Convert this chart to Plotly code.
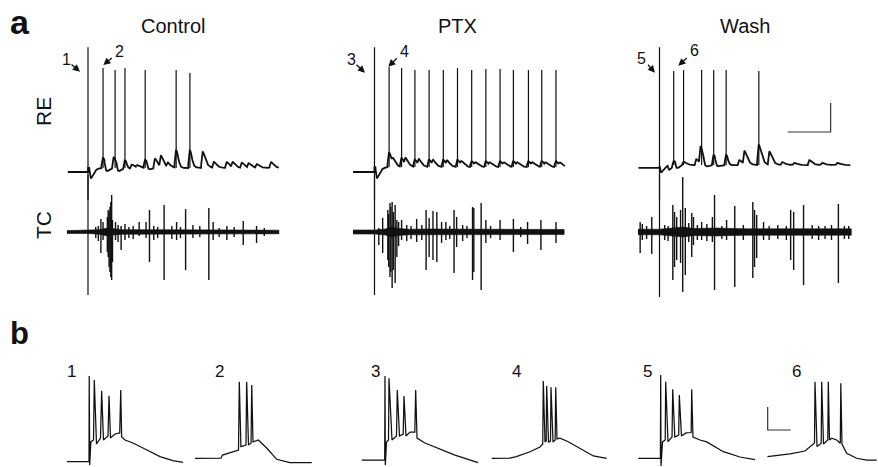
import numpy as np
import plotly.graph_objects as go

W, H = 878, 467
INK = "#111111"
FONT = "Liberation Sans, Arial, Helvetica, sans-serif"

# ================= DATA =================
# ---- panel a, RE cell: time (s, 0 = stimulus), membrane potential (mV)
ctrl_v_pre, ctrl_v_post = -65.0, -62.2
ctrl_spike_t = [0.35, 0.63, 0.86, 1.33, 2.05, 2.37]
ctrl_spike_peak = [6.7, 5.3, 6.7, 5.3, 5.3, 3.3]
ctrl_psp_t = [0.07, 0.35, 0.42, 0.60, 0.70, 0.86, 0.93, 1.02, 1.15, 1.33, 1.40, 1.56, 1.70,
              1.86, 2.05, 2.14, 2.37, 2.45, 2.67, 2.93, 3.23, 3.37, 3.58, 3.74, 3.93, 4.26]
ctrl_psp_amp = [-7, 7, -5, 7.5, -4, 5.5, -2, 2.5, 1.5, 5.5, -3, 6.5, 7.5,
                3, 12, -2, 12, -2, 11, 4, 4, 3.5, 3.5, 3, 2.5, 4]

ptx_v_pre, ptx_v_post = -65.0, -61.6
ptx_spike_t = [0.34, 0.63, 0.94, 1.27, 1.60, 1.93, 2.26, 2.59, 2.92, 3.23, 3.58, 3.89, 4.22]
ptx_spike_peak = [7.4, 6.7, 5.3, 5.3, 5.3, 6.7, 5.3, 6.0, 6.0, 5.3, 5.3, 5.3, 5.3]
ptx_psp_t = [0.06, 0.34, 0.44, 0.63, 0.73, 0.94, 1.04, 1.27, 1.37, 1.60, 1.70, 1.93, 2.03, 2.26,
             2.36, 2.59, 2.69, 2.92, 3.02, 3.23, 3.33, 3.58, 3.68, 3.89, 3.99, 4.22, 4.32]
ptx_psp_amp = [-7.5, 10, 3, 6, 4.5, 5, 4, 5, 3.5, 5, 3, 5, 2.5, 4,
               2, 4, 2, 4, 2, 4, 2, 4, 2, 4, 2, 4, 2]

wash_v_pre, wash_v_post = -62.2, -60.2
wash_spike_t = [0.33, 0.56, 0.98, 1.26, 1.55, 2.31]
wash_spike_peak = [4.7, 5.3, 5.3, 5.3, 5.3, 4.7]
wash_psp_t = [0.04, 0.23, 0.33, 0.40, 0.56, 0.86, 0.96, 1.06, 1.26, 1.33, 1.55, 1.62, 1.86,
              1.98, 2.31, 2.56, 2.86, 3.14, 3.49, 3.79, 4.14]
wash_psp_amp = [-5, -3, 3.5, -3.4, 2.5, 4, 11.5, -3.4, 7, -3.4, 7, -2, 3.4,
                9, 13.8, 9, 2, 1.5, 3.4, 1.5, 1.5]

stim_artifact_top = [21.0, 21.0, 21.0]          # mV, Control / PTX / Wash
trace_span = [(-0.47, 4.44), (-0.50, 4.43), (-0.49, 4.44)]

# ---- panel a, TC extracellular: time (s), deflection (a.u., baseline 0)
ctrl_tc_t = [0.30, 0.35, 0.45, 0.47, 0.49, 0.51, 0.53, 0.55, 0.57, 0.64, 0.77, 0.86, 1.19, 1.35,
             1.43, 1.53, 1.77, 2.06, 2.27, 2.44, 2.81, 2.91, 3.23, 3.61, 3.92,
             0.18, 0.24, 0.70, 0.95, 1.05, 1.62, 1.95, 2.15, 2.60, 3.05, 3.40, 4.10]
ctrl_tc_up = [13, 10, 15, 22, 20, 25, 30, 37, 12, 10, 6, 8, 10, 10,
              22, 6, 27, 10, 23, 7, 24, 10, 6, 11, 6,
              5, 6, 7, 5, 6, 5, 6, 5, 6, 4, 5, 4]
ctrl_tc_down = [-21, -8, -20, -25, -35, -40, -45, -48, -30, -8, -18, -8, -4, -6,
                -30, -8, -48, -8, -38, -6, -48, -8, -8, -13, -11,
                -6, -9, -10, -6, -7, -6, -7, -6, -5, -5, -5, -4]
ctrl_env_t = [-0.49, 0.0, 0.25, 0.45, 0.6, 0.8, 1.5, 2.5, 3.3, 4.44]
ctrl_env_h = [1.5, 1.5, 2.2, 4.0, 3.0, 2.3, 2.3, 2.2, 1.8, 1.8]

ptx_tc_t = [0.10, 0.19, 0.31, 0.33, 0.36, 0.38, 0.41, 0.44, 0.48, 0.52, 0.63, 0.98, 1.20, 1.27,
            1.36, 1.45, 1.56, 1.66, 1.85, 1.91, 2.28, 2.31, 2.48, 2.59, 2.92, 3.23, 3.56, 3.87, 4.22,
            0.56, 0.75, 0.85, 1.10, 1.75, 2.05, 2.15, 2.70, 3.40]
ptx_tc_up = [4, 14, 22, 18, 29, 25, 30, 20, 27, 12, 12, 13, 22, 14,
             21, 20, 10, 10, 22, 15, 25, 24, 29, 12, 12, 13, 10, 12, 10,
             10, 7, 6, 7, 6, 7, 6, 6, 5]
ptx_tc_down = [-13, -21, -28, -35, -45, -40, -56, -38, -51, -25, -8, -10, -38, -25,
               -28, -30, -11, -8, -41, -15, -48, -40, -58, -11, -8, -20, -12, -18, -11,
               -14, -9, -7, -8, -7, -9, -6, -6, -5]
ptx_env_t = [-0.5, 0.0, 0.25, 0.4, 0.55, 0.8, 1.3, 1.9, 2.5, 3.2, 4.41]
ptx_env_h = [2.0, 2.0, 3.0, 5.0, 3.5, 2.8, 3.0, 3.0, 2.8, 2.5, 2.5]

wash_tc_t = [-0.45, -0.40, -0.18, 0.31, 0.35, 0.40, 0.49, 0.54, 0.60, 0.75, 0.79, 0.98, 1.23,
             1.28, 1.56, 1.75, 2.17, 2.21, 2.26, 2.42, 3.05, 3.12, 3.35, 4.16,
             -0.30, 0.12, 0.20, 0.68, 0.88, 1.10, 1.45, 1.95, 2.55, 2.75, 2.95, 3.55, 3.70,
             3.85, 4.00, 4.30, 4.40]
wash_tc_up = [10, 8, 15, 27, 20, 15, 22, 55, 24, 19, 15, 10, 15,
              37, 12, 26, 30, 22, 17, 10, 22, 20, 27, 28,
              6, 7, 6, 9, 7, 8, 6, 7, 6, 7, 6, 7, 6, 6, 7, 6, 6]
wash_tc_down = [-21, -8, -22, -48, -35, -28, -31, -60, -43, -25, -13, -8, -10,
                -58, -8, -55, -46, -35, -26, -8, -28, -38, -53, -51,
                -7, -8, -9, -10, -8, -9, -7, -8, -8, -7, -8, -7, -8, -7, -8, -7, -7]
wash_env_t = [-0.51, 0.0, 0.3, 0.55, 0.8, 1.3, 2.0, 3.0, 4.46]
wash_env_h = [2.8, 2.8, 4.0, 5.0, 3.5, 4.0, 3.2, 3.2, 3.2]

tc_artifact_bottom = [-63, -63, -65]

# ---- panel b, expanded RE bursts: time (ms), membrane potential (mV)
b1_t = [4, 100, 101, 103, 108, 119.6, 123, 132.6, 150, 155, 163, 182.6, 187, 193.5, 213,
        233.5, 238, 242, 256.5, 291, 352, 408.7, 465, 508.7]
b1_v = [-66.5, -66.5, 8, -69.3, -49.3, -47.6, 4.6, -51, -45.9, -4.7, -47.6, -44.1, -9.1, -45.9,
        -42.4, -41.5, -4.1, -45, -47.6, -50.2, -56.3, -62.1, -65.6, -67]
b2_t = [4.3, 117, 124, 156.5, 193.5, 197, 204, 226, 229, 237, 248, 251, 256.5, 279.6, 316,
        359.6, 417, 511.7]
b2_v = [-63.5, -63.3, -60.7, -58.9, -56.3, 3.1, -53.4, -52, 3.1, -52, -50.2, 0.2, -49.3, -47.6,
        -54.6, -64.4, -67.3, -67.3]
b3_t = [3, 103, 104.3, 105.7, 111, 119.6, 121.7, 134.8, 154.3, 157.8, 167.4, 183.5, 187, 195.6,
        213, 234, 237.8, 243.5, 278, 343.5, 408.7, 508.7]
b3_v = [-65, -65, 8, -69.3, -49.3, -47.6, 6.0, -47.6, -44.1, -4.1, -44.1, -42.4, -9.3, -44.1,
        -40.7, -40.7, -4.1, -45.9, -50.2, -55.4, -60.7, -67.3]
b4_t = [3, 82.6, 110, 169.6, 213, 225, 227.4, 234.8, 240, 242, 250, 258.7, 260.9, 269.6, 279,
        281.3, 287, 300, 336, 387, 445, 503]
b4_v = [-63.5, -63.3, -62.1, -57.8, -53.7, -51.1, 3.7, -49.3, -48.5, -0.7, -49.3, -48.5, -1.8,
        -49.3, -47.6, -1.8, -46.7, -46.1, -49.1, -54.8, -61.5, -63.5]
b5_t = [1.3, 97.4, 98.7, 100, 106.5, 118.3, 120.4, 130.4, 148, 150.9, 160, 177, 179.6, 189,
        208.7, 231.3, 233.5, 239, 269.6, 298.7, 371, 443.5, 508.7]
b5_v = [-63.5, -63.5, 8.9, -70.2, -49.3, -47.6, 3.1, -49.1, -45, -3.5, -45, -43.3, -8.5, -44.1,
        -41.5, -41.1, -3.5, -45, -47.6, -49.3, -57.8, -62.4, -64.6]
b6_t = [2, 100, 165, 194.3, 206.5, 208.7, 217.4, 235.6, 237.8, 245.6, 264.3, 266.5, 271.7,
        281.3, 303, 318.7, 320.9, 326, 346.5, 390, 433.5, 477]
b6_v = [-62.1, -59.6, -57.2, -52, -50.2, 3.1, -53.3, -50.7, 3.1, -51.1, -47.6, 3.1, -47.6,
        -46.1, -47.6, -50.5, 1.7, -51.1, -59.2, -63.5, -65, -65]

condition_labels = ["Control", "PTX", "Wash"]
burst_labels = ["1", "2", "3", "4", "5", "6"]

SCALE_A_S, SCALE_A_MV = 1.0, 20.0
SCALE_B_MS, SCALE_B_MV = 100.0, 20.0

# ================= GEOMETRY (pixels) =================
A_PX_PER_S = 43.0
RE_PX_PER_MV = 1.45
B_PX_PER_MS = 0.23
B_PX_PER_MV = 1.15
stim_px = [88.0, 374.5, 659.5]
RE_TOP, RE_BOT, RE_BASE_PX = 40, 200, 172
TC_TOP, TC_BOT, TC_BASE_PX = 175, 305, 232
B_TOP, B_BOT, B_BASE_PX = 360, 467, 460
b_left_px = [66, 194, 361, 491, 638, 767]
TAU = 0.04

fig = go.Figure()
layout = {}
ax_count = [0]


def px(x):
    return x / W


def py(y):
    return 1 - y / H


def new_axes(xdom, ydom, xr, yr):
    ax_count[0] += 1
    i = ax_count[0]
    s = "" if i == 1 else str(i)
    layout["xaxis" + s] = dict(domain=xdom, range=xr, visible=False, fixedrange=True,
                               anchor="y" + s)
    layout["yaxis" + s] = dict(domain=ydom, range=yr, visible=False, fixedrange=True,
                               anchor="x" + s)
    return "x" + s, "y" + s


def line(xref, yref, x, y, width=1.5, color=INK, **kw):
    fig.add_trace(go.Scatter(x=x, y=y, mode="lines", xaxis=xref, yaxis=yref,
                             line=dict(color=color, width=width), hoverinfo="skip",
                             showlegend=False, **kw))


def segments(ts, lo, hi):
    xs, ys = [], []
    for t, a, b in zip(ts, lo, hi):
        xs += [t, t, None]
        ys += [a, b, None]
    return xs, ys


re_sets = [
    (ctrl_v_pre, ctrl_v_post, ctrl_spike_t, ctrl_spike_peak, ctrl_psp_t, ctrl_psp_amp),
    (ptx_v_pre, ptx_v_post, ptx_spike_t, ptx_spike_peak, ptx_psp_t, ptx_psp_amp),
    (wash_v_pre, wash_v_post, wash_spike_t, wash_spike_peak, wash_psp_t, wash_psp_amp),
]
tc_sets = [
    (ctrl_tc_t, ctrl_tc_up, ctrl_tc_down, ctrl_env_t, ctrl_env_h),
    (ptx_tc_t, ptx_tc_up, ptx_tc_down, ptx_env_t, ptx_env_h),
    (wash_tc_t, wash_tc_up, wash_tc_down, wash_env_t, wash_env_h),
]

re_yr = [-65 - (RE_BOT - RE_BASE_PX) / RE_PX_PER_MV, -65 + (RE_BASE_PX - RE_TOP) / RE_PX_PER_MV]
tc_yr = [-(TC_BOT - TC_BASE_PX), TC_BASE_PX - TC_TOP]
re_axes = []

for k in range(3):
    left = stim_px[k] - 0.5 * A_PX_PER_S
    xdom = [px(left), px(left + 5.0 * A_PX_PER_S)]
    xr = [-0.5, 4.5]
    # RE
    xa, ya = new_axes(xdom, [py(RE_BOT), py(RE_TOP)], xr, re_yr)
    re_axes.append((xa, ya))
    vpre, vpost, sp_t, sp_pk, psp_t, psp_a = re_sets[k]
    t0, t1 = trace_span[k]
    t = np.arange(t0, t1, 0.004)
    v = np.where(t < 0, vpre, vpost).astype(float)
    for tp, a in zip(psp_t, psp_a):
        xk = (t - (tp - TAU)) / TAU
        v += a * np.where(xk > 0, xk * np.exp(1 - np.clip(xk, 0, None)), 0.0)
    line(xa, ya, t, v, width=1.8)
    sx, sy = segments(sp_t, [vpost] * len(sp_t), sp_pk)
    line(xa, ya, sx, sy, width=1.2)
    line(xa, ya, [0, 0], [stim_artifact_top[k], -300], width=1.2)
    # TC
    xt, yt = new_axes(xdom, [py(TC_BOT), py(TC_TOP)], xr, tc_yr)
    ev_t, ev_up, ev_dn, env_t, env_h = tc_sets[k]
    et = list(env_t) + list(env_t[::-1])
    eh = list(env_h) + [-h for h in env_h[::-1]]
    fig.add_trace(go.Scatter(x=et, y=eh, mode="lines", fill="toself", fillcolor=INK,
                             line=dict(color=INK, width=0.6), xaxis=xt, yaxis=yt,
                             hoverinfo="skip", showlegend=False))
    sx, sy = segments(ev_t, ev_dn, ev_up)
    line(xt, yt, sx, sy, width=1.4)
    line(xt, yt, [0, 0], [300, tc_artifact_bottom[k]], width=1.2)

# scale bar panel a (in Wash RE axes)
xa, ya = re_axes[2]
sb_t0, sb_v0 = 2.98, -37.4
line(xa, ya, [sb_t0, sb_t0 + SCALE_A_S, sb_t0 + SCALE_A_S],
     [sb_v0, sb_v0, sb_v0 + SCALE_A_MV], width=1.2, color="#333333")

# panel b
b_sets = [(b1_t, b1_v), (b2_t, b2_v), (b3_t, b3_v), (b4_t, b4_v), (b5_t, b5_v), (b6_t, b6_v)]
b_yr = [-65 - (B_BOT - B_BASE_PX) / B_PX_PER_MV, -65 + (B_BASE_PX - B_TOP) / B_PX_PER_MV]
b_axes = []
for k, (bt, bv) in enumerate(b_sets):
    left = b_left_px[k]
    right = min(left + 118, W)
    xa, ya = new_axes([px(left), px(right)], [py(B_BOT), py(B_TOP)],
                      [0, (right - left) / B_PX_PER_MS], b_yr)
    b_axes.append((xa, ya))
    line(xa, ya, bt, bv, width=1.25)

xa, ya = b_axes[5]
line(xa, ya, [3, 3, 3 + SCALE_B_MS], [-38.9 + SCALE_B_MV, -38.9, -38.9], width=1.2,
     color="#333333")

# ================= TEXT =================
ann = []


def text(s, x, y, size, bold=False, angle=0, xanchor="center", yanchor="middle"):
    ann.append(dict(text=("<b>%s</b>" % s) if bold else s, x=px(x), y=py(y), xref="paper",
                    yref="paper", showarrow=False, xanchor=xanchor, yanchor=yanchor,
                    textangle=angle, font=dict(family=FONT, size=size, color=INK)))


def arrow(x_head, y_head, x_tail, y_tail):
    ann.append(dict(text="", x=px(x_head), y=py(y_head), xref="paper", yref="paper",
                    ax=x_tail - x_head, ay=y_tail - y_head, axref="pixel", ayref="pixel",
                    showarrow=True, arrowhead=2, arrowsize=1.1, arrowwidth=1.3,
                    arrowcolor=INK))


text("a", 8, 22, 34, bold=True, xanchor="left")
text("b", 8, 333, 31, bold=True, xanchor="left")
for lab, cx in zip(condition_labels, [173, 457.5, 745]):
    text(lab, cx, 26, 20)
text("RE", 43, 112, 21, angle=-90)
text("TC", 43, 225, 21, angle=-90)

a_digit_pos = [(66.7, 60), (119.5, 51), (351, 59), (404.5, 51), (641, 58), (694.5, 50)]
a_arrows = [((80, 71.7), (70, 63.3)), ((103.3, 65), (113.3, 56.7)),
            ((365, 72.7), (355, 63.3)), ((388.3, 66.7), (398.3, 56.7)),
            ((655, 72.7), (646.7, 63.3)), ((678.3, 65.7), (688.3, 56.7))]
for lab, (x, y) in zip(burst_labels, a_digit_pos):
    text(lab, x, y, 16)
for (h, tl) in a_arrows:
    arrow(h[0], h[1], tl[0], tl[1])

b_digit_pos = [(71, 371), (219, 371), (375, 371), (516.5, 371), (647.5, 371), (796, 371)]
for lab, (x, y) in zip(burst_labels, b_digit_pos):
    text(lab, x, y, 17)

layout.update(dict(width=W, height=H, margin=dict(l=0, r=0, t=0, b=0),
                   paper_bgcolor="white", plot_bgcolor="rgba(0,0,0,0)",
                   showlegend=False, annotations=ann))
fig.update_layout(**layout)
fig.write_html("out.html", config={"displayModeBar": False},
               post_script="document.body.style.margin='0';document.body.style.overflow='hidden';")
